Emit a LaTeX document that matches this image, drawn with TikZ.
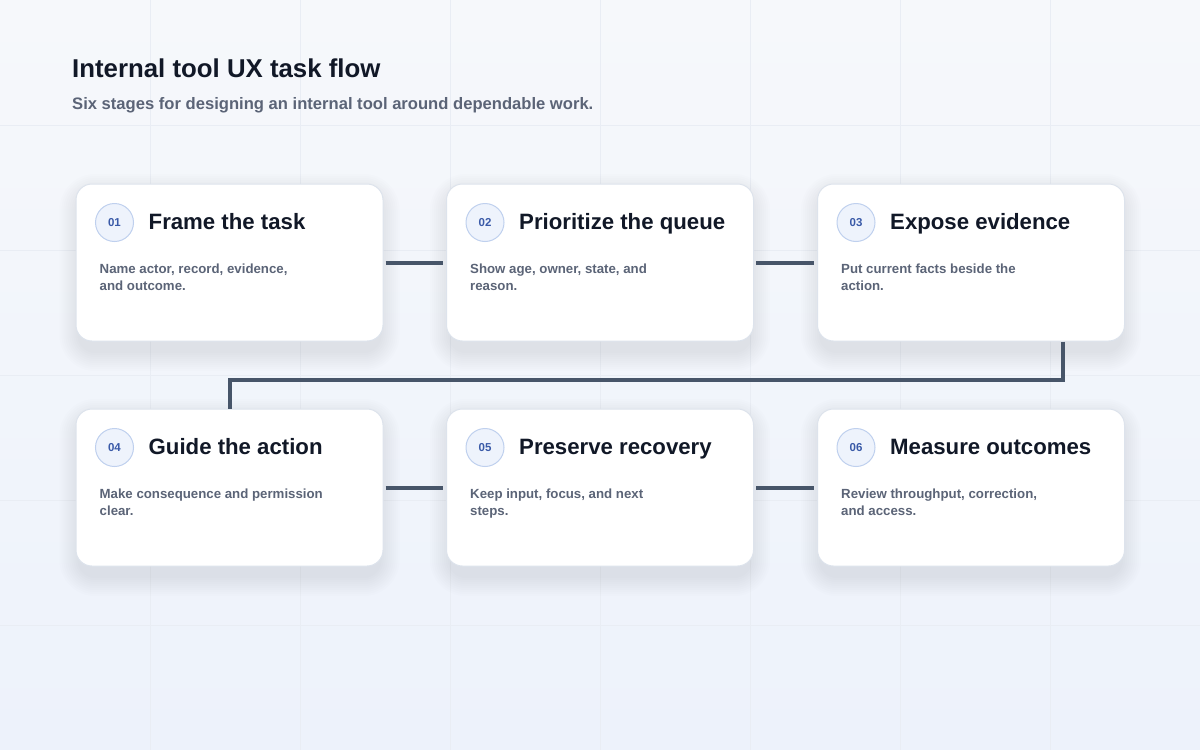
\documentclass[tikz,border=0pt]{standalone}
\usepackage{fontspec}
\setmainfont{Liberation Sans}
\usetikzlibrary{positioning}

\definecolor{ink}{HTML}{111827}
\definecolor{muted}{HTML}{5B6477}
\definecolor{linkc}{HTML}{475569}
\definecolor{badgefill}{HTML}{EEF3FC}
\definecolor{badgeline}{HTML}{BFD0EE}
\definecolor{badgetext}{HTML}{3A5AA8}
\definecolor{bgtop}{HTML}{F6F8FB}
\definecolor{bgbot}{HTML}{EDF2FB}
\definecolor{gridc}{HTML}{E9EDF4}
\definecolor{cardline}{HTML}{DDE3EC}
\definecolor{shadowc}{HTML}{5B6A8A}

\tikzset{
  card/.style={draw=cardline, line width=1pt, fill=white, rounded corners=16pt,
    minimum width=307pt, minimum height=157pt, inner sep=0pt},
  shadowlayer/.style={fill=shadowc, fill opacity=0.013, draw=none, inner sep=0pt,
    rounded corners=16pt+#1pt, minimum width=300pt+2*#1pt, minimum height=157pt+2*#1pt},
  badge/.style={circle, draw=badgeline, fill=badgefill, line width=1pt,
    minimum size=38pt, inner sep=0pt, font=\fontsize{11.5}{14}\selectfont\bfseries, text=badgetext},
  cardtitle/.style={anchor=base west, inner sep=0pt, text=ink,
    font=\fontsize{22.2}{26}\selectfont\bfseries},
  cardbody/.style={anchor=base west, align=left, inner sep=0pt, text=muted,
    font=\fontsize{13.25}{17}\selectfont\bfseries},
  link/.style={draw=linkc, line width=4pt}
}

\begin{document}
\begin{tikzpicture}[x=1pt, y=-1pt]
  \useasboundingbox (0,0) rectangle (1200,750);
  \shade[top color=bgtop, bottom color=bgbot] (0,0) rectangle (1200,750);
  \foreach \gx in {150,300,...,1050}
    \draw[gridc, line width=1pt] (\gx,0) -- (\gx,750);
  \foreach \gy in {125,250,...,625}
    \draw[gridc, line width=1pt] (0,\gy) -- (1200,\gy);

  \node[anchor=base west, inner sep=0pt, text=ink, font=\fontsize{25.8}{30}\selectfont\bfseries]
    (title) at (72,77) {Internal tool UX task flow};
  \node[anchor=base west, inner sep=0pt, text=muted, font=\fontsize{16.6}{20}\selectfont\bfseries]
    (subtitle) at (72,109) {Six stages for designing an internal tool around dependable work.};

  \foreach \n/\cx/\cy/\ttl/\body in {
      1/229.5/262.5/{Frame the task}/{Name actor, record, evidence,\\and outcome.},
      2/600/262.5/{Prioritize the queue}/{Show age, owner, state, and\\reason.},
      3/971/262.5/{Expose evidence}/{Put current facts beside the\\action.},
      4/229.5/487.5/{Guide the action}/{Make consequence and permission\\clear.},
      5/600/487.5/{Preserve recovery}/{Keep input, focus, and next\\steps.},
      6/971/487.5/{Measure outcomes}/{Review throughput, correction,\\and access.}}
  {
    \foreach \s in {2,4,...,20}
      \node[shadowlayer=\s] at (\cx,\cy+10) {};
    \node[card] (card\n) at (\cx,\cy) {};
    \node[badge] (badge\n) at ([xshift=39pt, yshift=-39pt]card\n.north west) {0\n};
    \node[cardtitle] (head\n) at ([xshift=73pt, yshift=-46pt]card\n.north west) {\ttl};
    % base anchor sits on the last line
    \node[cardbody] (body\n) at ([xshift=24pt, yshift=-107pt]card\n.north west) {\body};
  }

  \draw[link, shorten <=2pt, shorten >=3pt] (card1.east) -- (card2.west);
  \draw[link, shorten <=2pt, shorten >=3pt] (card2.east) -- (card3.west);
  \draw[link] ([xshift=-62pt]card3.south east) -- ++(0,38) -| (card4.north);
  \draw[link, shorten <=2pt, shorten >=3pt] (card4.east) -- (card5.west);
  \draw[link, shorten <=2pt, shorten >=3pt] (card5.east) -- (card6.west);
\end{tikzpicture}
\end{document}
